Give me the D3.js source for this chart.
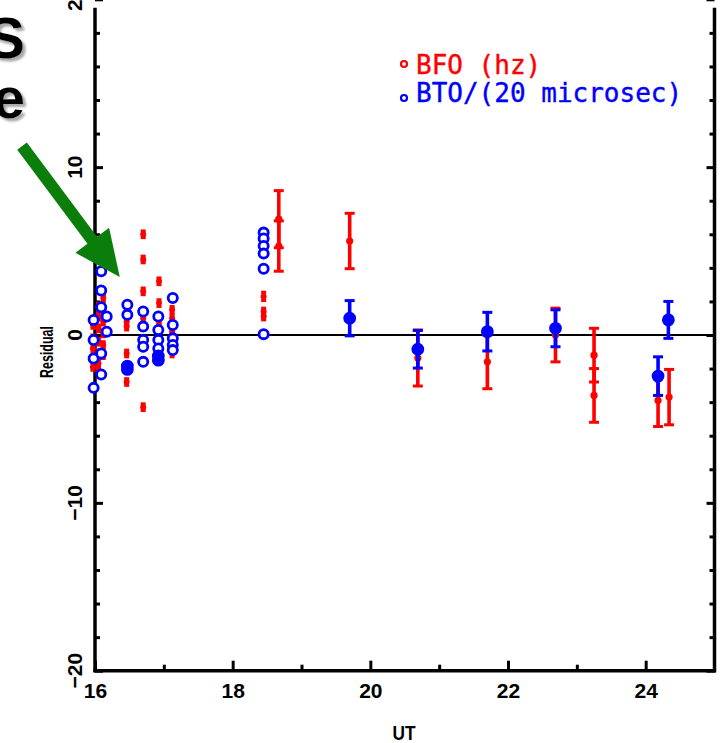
<!DOCTYPE html>
<html>
<head>
<meta charset="utf-8">
<script src="https://cdn.jsdelivr.net/npm/d3@7"></script>
<style>
  html, body { margin: 0; padding: 0; background: #fff; }
  svg { display: block; }
</style>
</head>
<body>
<svg id="chart" width="721" height="743"></svg>
<script>
// ---- Residuals of the burst frequency offset (BFO) and burst timing offset (BTO) ----

// BFO residuals (hz): time (UT hours), value, one-sigma error
const bfoTime = [
  15.97, 15.97, 15.97, 15.97, 15.97,
  16.05, 16.05, 16.05, 16.05, 16.05, 16.05, 16.05,
  16.12, 16.12, 16.12, 16.12, 16.12, 16.12,
  16.46, 16.46, 16.46, 16.46,
  16.70, 16.70, 16.70, 16.70, 16.70, 16.70, 16.70, 16.70,
  16.93, 16.93, 16.93, 16.93, 16.93, 16.93, 16.93, 16.93,
  17.12, 17.12, 17.12, 17.12, 17.12, 17.12, 17.12,
  18.45, 18.45, 18.45,
  18.67, 18.67,
  19.70,
  20.69,
  21.70,
  22.69,
  23.25, 23.25,
  24.18,
  24.34
];
const bfoValue = [
  0.6, -0.2, -0.8, -1.4, -1.9,
  1.7, 1.1, 0.4, -0.4, -1.1, -1.7, -2.2,
  2.2, 1.4, 0.8, 0.1, -0.6, -1.2,
  0.8, 0.5, -1.1, -2.8,
  6.0, 4.5, 2.6, 1.0, 0.5, -0.3, -0.6, -4.3,
  3.2, 1.9, 0.9, 0.5, 0.1, -0.3, -0.7, -1.1,
  1.5, 1.0, 0.6, 0.2, -0.3, -0.7, -1.1,
  2.3, 1.4, 1.1,
  6.9, 5.3,
  5.6,
  -1.37,
  -1.6,
  0.0,
  -1.2, -3.6,
  -3.9,
  -3.7
];
const bfoError = [
  0.2, 0.2, 0.2, 0.2, 0.2,
  0.2, 0.2, 0.2, 0.2, 0.2, 0.2, 0.2,
  0.2, 0.2, 0.2, 0.2, 0.2, 0.2,
  0.2, 0.2, 0.2, 0.2,
  0.2, 0.2, 0.2, 0.2, 0.2, 0.2, 0.2, 0.2,
  0.2, 0.2, 0.2, 0.2, 0.2, 0.2, 0.2, 0.2,
  0.2, 0.2, 0.2, 0.2, 0.2, 0.2, 0.2,
  0.25, 0.2, 0.2,
  1.7, 1.5,
  1.65,
  1.67,
  1.6,
  1.6,
  1.6, 1.6,
  1.55,
  1.65
];

// BTO residuals in units of 20 microseconds; error 0 means no error bar
const btoTime = [
  15.98, 15.98, 15.98, 15.98,
  16.09, 16.09, 16.09, 16.09, 16.09,
  16.17, 16.17,
  16.47, 16.47, 16.47, 16.47,
  16.70, 16.70, 16.70, 16.70, 16.70,
  16.92, 16.92, 16.92, 16.92, 16.92, 16.92,
  17.13, 17.13, 17.13, 17.13, 17.13,
  18.45, 18.45, 18.45, 18.45, 18.45, 18.45,
  19.70,
  20.69,
  21.70,
  22.69,
  24.18,
  24.33
];
const btoValue = [
  0.9, -0.3, -1.4, -3.15,
  3.8, 2.65, 1.65, -1.1, -2.35,
  1.1, 0.2,
  1.8, 1.2, -1.85, -2.05,
  1.4, 0.5, -0.3, -0.7, -1.6,
  1.1, 0.3, -0.3, -0.8, -1.25, -1.5,
  2.2, 0.6, -0.2, -0.6, -0.9,
  6.1, 5.75, 5.3, 4.85, 3.95, 0.05,
  1.0,
  -0.85,
  0.2,
  0.4,
  -2.45,
  0.9
];
const btoError = [
  0, 0, 0, 0,
  0, 0, 0, 0, 0,
  0, 0,
  0, 0, 0.15, 0.15,
  0, 0, 0, 0, 0,
  0, 0, 0, 0, 0.15, 0.15,
  0, 0, 0, 0, 0,
  0, 0, 0, 0, 0, 0,
  1.05,
  1.12,
  1.15,
  1.1,
  1.15,
  1.1
];

// Axis ticks
const xMajorTicks = [16, 18, 20, 22, 24];
const xMinorTicks = [17, 19, 21, 23];
const yMajorTicks = [-20, -10, 0, 10, 20];
const yMinorTicks = [-18, -16, -14, -12, -8, -6, -4, -2, 2, 4, 6, 8, 12, 14, 16, 18];

// Legend entries
const legendLabels = ["BFO (hz)", "BTO/(20 microsec)"];
const legendColors = ["#ff0000", "#0000ff"];

// Overlay caption fragments and pointer arrow (in data units: UT, residual)
const captionLines = ["S", "e"];
const arrowTail = [14.94, 11.25];
const arrowTip = [16.36, 3.45];

const svg = d3.select("#chart");
const x = d3.scaleLinear().domain([16, 25]).range([95, 714.5]);
const y = d3.scaleLinear().domain([-20, 20]).range([670.7, -0.7]);

const bfo = bfoTime.map((t, i) => ({ t, v: bfoValue[i], e: bfoError[i] }));
const bto = btoTime.map((t, i) => ({ t, v: btoValue[i], e: btoError[i] }));

// soft grey drop shadow for the caption
const defs = svg.append("defs");
defs.append("filter").attr("id", "capShadow").attr("x", "-20%").attr("y", "-20%")
  .attr("width", "160%").attr("height", "160%")
  .append("feDropShadow").attr("dx", 3).attr("dy", 3).attr("stdDeviation", 0.8)
  .attr("flood-color", "#9a9a9a").attr("flood-opacity", 0.85);

// ---- axes ----
const axisFont = "'Liberation Sans', Arial, sans-serif";

function styleAxis(g) {
  g.select(".domain").remove();
  g.selectAll(".tick line").attr("stroke", "#000").attr("stroke-width", 3);
}

// bottom
svg.append("g").attr("transform", `translate(0,${y(-20)})`)
  .call(d3.axisBottom(x).tickValues(xMajorTicks).tickSize(-10).tickPadding(12)
    .tickFormat(d3.format("d")))
  .call(styleAxis)
  .call(g => g.selectAll("text").attr("font-family", axisFont).attr("font-weight", "bold")
    .attr("font-size", 21).attr("fill", "#000").attr("y", 12).attr("dy", "0.72em"));
svg.append("g").attr("transform", `translate(0,${y(-20)})`)
  .call(d3.axisBottom(x).tickValues(xMinorTicks).tickSize(-6).tickFormat(""))
  .call(styleAxis);

// left
svg.append("g").attr("transform", `translate(${x(16)},0)`)
  .call(d3.axisLeft(y).tickValues(yMajorTicks).tickSize(-8).tickFormat(""))
  .call(styleAxis);
svg.append("g").attr("transform", `translate(${x(16)},0)`)
  .call(d3.axisLeft(y).tickValues(yMinorTicks).tickSize(-5).tickFormat(""))
  .call(styleAxis);

// right
svg.append("g").attr("transform", `translate(${x(25)},0)`)
  .call(d3.axisRight(y).tickValues(yMajorTicks).tickSize(-8).tickFormat(""))
  .call(styleAxis);
svg.append("g").attr("transform", `translate(${x(25)},0)`)
  .call(d3.axisRight(y).tickValues(yMinorTicks).tickSize(-5).tickFormat(""))
  .call(styleAxis);

// frame lines
const frame = svg.append("g").attr("stroke", "#000").attr("stroke-width", 3.5).attr("fill", "none");
frame.append("line").attr("x1", x(16)).attr("x2", x(16)).attr("y1", y(19.5)).attr("y2", y(-20) + 1.5);
frame.append("line").attr("x1", x(25)).attr("x2", x(25)).attr("y1", y(19.5)).attr("y2", y(-20) + 1.5);
frame.append("line").attr("x1", x(16) - 1.5).attr("x2", x(25) + 1.5).attr("y1", y(-20)).attr("y2", y(-20));

// zero line
svg.append("line").attr("x1", x(16)).attr("x2", x(25)).attr("y1", y(0)).attr("y2", y(0))
  .attr("stroke", "#000").attr("stroke-width", 2);

// rotated y tick labels
svg.append("g").selectAll("text").data(yMajorTicks).join("text")
  .attr("transform", d => `translate(82,${y(d)}) rotate(-90)`)
  .attr("text-anchor", "middle")
  .attr("font-family", axisFont).attr("font-weight", "bold").attr("font-size", 21)
  .text(d => d < 0 ? "\u2212" + Math.abs(d) : String(d));

// axis titles
svg.append("text").attr("transform", "translate(53,352) rotate(-90)")
  .attr("text-anchor", "middle").attr("font-family", axisFont).attr("font-weight", "bold")
  .attr("font-size", 18).attr("textLength", 52).attr("lengthAdjust", "spacingAndGlyphs")
  .text("Residual");
svg.append("text").attr("x", 404).attr("y", 740)
  .attr("text-anchor", "middle").attr("font-family", axisFont).attr("font-weight", "bold")
  .attr("font-size", 21).attr("textLength", 23).attr("lengthAdjust", "spacingAndGlyphs")
  .text("UT");

// ---- BFO marks (red) ----
const red = legendColors[0], blue = legendColors[1];
const gBfo = svg.append("g");
const bfoMark = gBfo.selectAll("g").data(bfo).join("g");
bfoMark.append("line")
  .attr("x1", d => x(d.t)).attr("x2", d => x(d.t))
  .attr("y1", d => y(d.v + d.e)).attr("y2", d => y(d.v - d.e))
  .attr("stroke", red).attr("stroke-width", d => d.e > 1 ? 3.6 : 4);
bfoMark.selectAll(".cap").data(d => [d.v + d.e, d.v - d.e].map(v => ({ t: d.t, v, big: d.e > 1 })))
  .join("line").attr("class", "cap")
  .attr("x1", d => x(d.t) - (d.big ? 5 : 2.5)).attr("x2", d => x(d.t) + (d.big ? 5 : 2.5))
  .attr("y1", d => y(d.v)).attr("y2", d => y(d.v))
  .attr("stroke", red).attr("stroke-width", 3);
bfoMark.append("circle")
  .attr("cx", d => x(d.t)).attr("cy", d => y(d.v)).attr("r", d => d.e > 1 ? 3.6 : 3)
  .attr("fill", red);

// ---- BTO marks (blue) ----
const gBto = svg.append("g");
const btoMark = gBto.selectAll("g").data(bto).join("g");
const withErr = btoMark.filter(d => d.e > 0);
withErr.append("line")
  .attr("x1", d => x(d.t)).attr("x2", d => x(d.t))
  .attr("y1", d => y(d.v + d.e)).attr("y2", d => y(d.v - d.e))
  .attr("stroke", blue).attr("stroke-width", 3.6);
withErr.filter(d => d.e > 0.5).selectAll(".cap")
  .data(d => [d.v + d.e, d.v - d.e].map(v => ({ t: d.t, v })))
  .join("line").attr("class", "cap")
  .attr("x1", d => x(d.t) - 5).attr("x2", d => x(d.t) + 5)
  .attr("y1", d => y(d.v)).attr("y2", d => y(d.v))
  .attr("stroke", blue).attr("stroke-width", 3);
btoMark.append("circle")
  .attr("cx", d => x(d.t)).attr("cy", d => y(d.v)).attr("r", d => d.e > 0 ? 5 : 4.6)
  .attr("fill", d => d.e > 0 ? blue : "#fff")
  .attr("stroke", blue).attr("stroke-width", 2.8);

// ---- legend ----
const legend = svg.append("g");
const legendY = [74, 102];
const markerY = [64, 98];
legendLabels.forEach((lab, i) => {
  legend.append("circle").attr("cx", 404).attr("cy", markerY[i]).attr("r", 3)
    .attr("fill", "#fff").attr("stroke", legendColors[i]).attr("stroke-width", 2.2);
  legend.append("text").attr("x", 416).attr("y", legendY[i])
    .attr("font-family", "'DejaVu Sans Mono', 'Liberation Mono', monospace")
    .attr("font-size", 26).attr("fill", legendColors[i])
    .attr("stroke", legendColors[i]).attr("stroke-width", 0.4)
    .text(lab);
});

// ---- overlay caption and arrow ----
const capG = svg.append("g");
const captionBase = [58, 118];
captionLines.forEach((s, i) => {
  capG.append("text").attr("x", 25).attr("y", captionBase[i])
    .attr("text-anchor", "end").attr("font-family", axisFont).attr("font-weight", "bold")
    .attr("font-size", 58).attr("fill", "#000").attr("filter", "url(#capShadow)").text(s);
});

(function drawArrow() {
  const x0 = x(arrowTail[0]), y0 = y(arrowTail[1]);
  const x1 = x(arrowTip[0]), y1 = y(arrowTip[1]);
  const len = Math.hypot(x1 - x0, y1 - y0);
  const ux = (x1 - x0) / len, uy = (y1 - y0) / len;
  const nx = -uy, ny = ux;
  const shaftHalf = 6, headHalf = 21, headLen = 46;
  const bx = x1 - ux * headLen, by = y1 - uy * headLen;
  const pts = [
    [x0 + nx * shaftHalf, y0 + ny * shaftHalf],
    [bx + nx * shaftHalf, by + ny * shaftHalf],
    [bx + nx * headHalf, by + ny * headHalf],
    [x1, y1],
    [bx - nx * headHalf, by - ny * headHalf],
    [bx - nx * shaftHalf, by - ny * shaftHalf],
    [x0 - nx * shaftHalf, y0 - ny * shaftHalf]
  ];
  svg.append("path").attr("d", d3.line()(pts) + "Z").attr("fill", "#0a7d0a");
})();
</script>
</body>
</html>
